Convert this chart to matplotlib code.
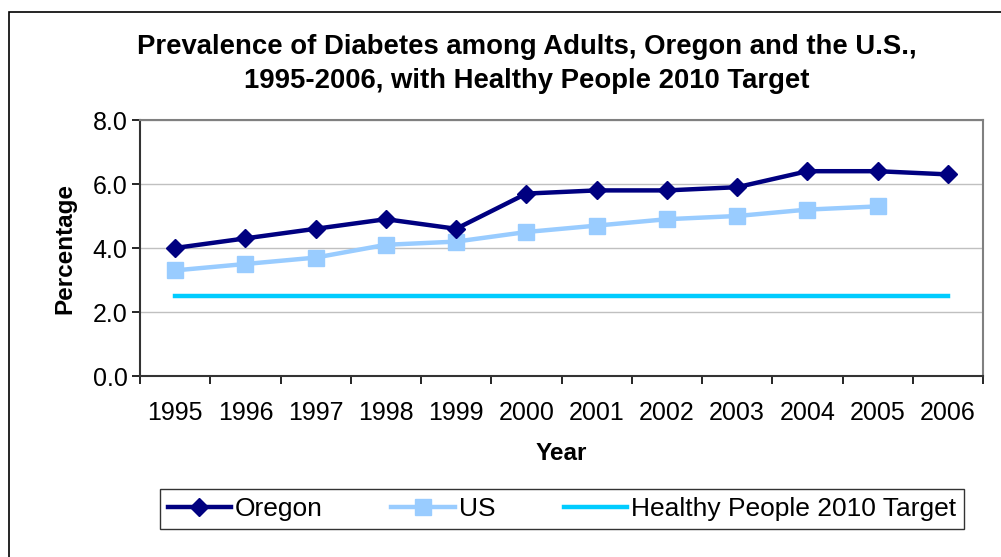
import numpy as np
import matplotlib.pyplot as plt
from matplotlib.patches import Rectangle

plt.rcParams['font.family'] = ['Liberation Sans', 'DejaVu Sans']

years = ['1995', '1996', '1997', '1998', '1999', '2000',
         '2001', '2002', '2003', '2004', '2005', '2006']
oregon = [4.0, 4.3, 4.6, 4.9, 4.6, 5.7, 5.8, 5.8, 5.9, 6.4, 6.4, 6.3]
us = [3.3, 3.5, 3.7, 4.1, 4.2, 4.5, 4.7, 4.9, 5.0, 5.2, 5.3, np.nan]
target = [2.5] * 12

W, H = 1001, 557
fig = plt.figure(figsize=(W / 100, H / 100), dpi=100)
# plot area in pixels: left 140, right 983, top 120, bottom 376
ax = fig.add_axes([140 / W, 1 - 376 / H, (983 - 140) / W, (376 - 120) / H])

x = np.arange(len(years))
ax.plot(x, oregon, color='#000080', lw=3.2, marker='D', ms=9, label='Oregon', zorder=4)
ax.plot(x, us, color='#99CCFF', lw=3.2, marker='s', ms=11, label='US', zorder=3)
ax.plot(x, target, color='#00CCFF', lw=3.2, label='Healthy People 2010 Target', zorder=2)

ax.set_xlim(-0.5, len(years) - 0.5)
ax.set_ylim(0, 8)
ax.set_yticks([0, 2, 4, 6, 8])
ax.set_yticklabels(['0.0', '2.0', '4.0', '6.0', '8.0'], fontsize=18)
ax.set_xticks(x)
ax.set_xticklabels(years, fontsize=18)
ax.set_xticks(np.arange(-0.5, len(years)), minor=True)
ax.tick_params(axis='x', which='major', length=0, pad=18)
ax.tick_params(axis='x', which='minor', length=6, width=1.2, direction='out')
ax.tick_params(axis='y', length=6, width=1.2, direction='out', pad=3)
ax.grid(axis='y', color='#C0C0C0', lw=1)
ax.set_axisbelow(True)

for s in ['top', 'right']:
    ax.spines[s].set_color('#808080')
    ax.spines[s].set_linewidth(1.5)
for s in ['left', 'bottom']:
    ax.spines[s].set_color('#333333')
    ax.spines[s].set_linewidth(1.5)

ax.set_ylabel('Percentage', fontsize=17.5, fontweight='bold', labelpad=12)
ax.set_xlabel('Year', fontsize=17.5, fontweight='bold', labelpad=12)

fig.text(527 / W, 1 - 64 / H,
         'Prevalence of Diabetes among Adults, Oregon and the U.S.,\n1995-2006, with Healthy People 2010 Target',
         ha='center', va='center', fontsize=19.8, fontweight='bold', linespacing=1.35)

leg = fig.legend(loc='center', bbox_to_anchor=(562 / W, 1 - 509 / H), ncol=3,
                 fontsize=19, frameon=True, fancybox=False, edgecolor='black',
                 handlelength=2.4, columnspacing=2.6, handletextpad=0.15,
                 borderpad=0.3, borderaxespad=0)
leg.get_frame().set_linewidth(1.0)

# outer chart border
fig.patches.append(Rectangle((9 / W, -0.1), 1.1, 1 - 12 / H + 0.1,
                             transform=fig.transFigure, fill=False,
                             edgecolor='black', lw=1.2))

fig.savefig('out.png', dpi=100)
